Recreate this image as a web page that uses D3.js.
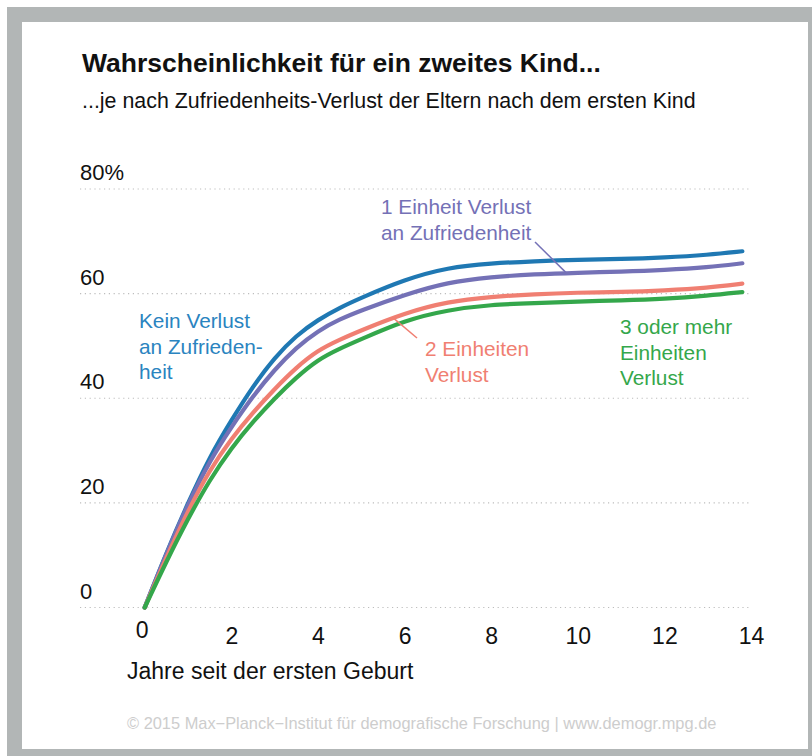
<!DOCTYPE html>
<html lang="de">
<head>
<meta charset="utf-8">
<script src="https://cdn.jsdelivr.net/npm/d3@7"></script>
<style>
  html, body { margin: 0; padding: 0; background: #fff; }
  svg { display: block; font-family: "Liberation Sans", Arial, Helvetica, sans-serif; }
</style>
</head>
<body>
<svg id="chart" width="812" height="756"></svg>
<script>
/* ──────────────────────────────────────────────────────────────
   Wahrscheinlichkeit für ein zweites Kind — line chart (D3 v7)
   ────────────────────────────────────────────────────────────── */

// years since first birth
const years = [0, 0.5, 1, 1.5, 2, 2.5, 3, 3.5, 4, 4.5, 5, 6, 7, 8, 9, 10, 11, 12, 13, 13.8];

// probability (%) per group
const keinVerlust   = [0, 10.5, 20, 28.8, 35.8, 42.3, 47.8, 52, 55, 57.3, 59.2, 62.7, 65, 65.8, 66.2, 66.5, 66.6, 66.9, 67.4, 68.1];
const einEinheit    = [0, 10.3, 19.8, 28, 34.5, 40.4, 45.5, 49.7, 52.9, 55.1, 56.8, 59.8, 62.2, 63.2, 63.7, 64.0, 64.2, 64.5, 65.0, 65.8];
const zweiEinheiten = [0, 9.6, 18.5, 26.3, 32.3, 37.3, 41.8, 45.9, 49.2, 51.2, 53, 56.3, 58.5, 59.4, 59.9, 60.2, 60.3, 60.6, 61.1, 61.9];
const dreiEinheiten = [0, 8.8, 17, 24.4, 30.5, 35.5, 40, 44, 47.4, 49.5, 51.3, 54.9, 56.9, 57.9, 58.2, 58.5, 58.7, 59.0, 59.6, 60.3];

const yTicks = [0, 20, 40, 60, 80];
const xTicks = [0, 2, 4, 6, 8, 10, 12, 14];

const title = "Wahrscheinlichkeit für ein zweites Kind...";
const subtitle = "...je nach Zufriedenheits-Verlust der Eltern nach dem ersten Kind";
const xTitle = "Jahre seit der ersten Geburt";
const footer = "© 2015 Max\u2212Planck\u2212Institut für demografische Forschung | www.demogr.mpg.de";

(function () {
  const W = 812, H = 756;
  const svg = d3.select("#chart");

  // frame
  svg.append("rect").attr("x", 7).attr("y", 7).attr("width", W).attr("height", H).attr("fill", "#b2b6b6");
  svg.append("rect").attr("x", 22).attr("y", 22).attr("width", 786).attr("height", 727).attr("fill", "#fff");

  // headings
  svg.append("text").attr("x", 82).attr("y", 72)
    .style("font-size", "26.5px").style("font-weight", "bold").attr("fill", "#111")
    .text(title);
  svg.append("text").attr("x", 82).attr("y", 108)
    .style("font-size", "21.4px").attr("fill", "#111")
    .text(subtitle);

  const x = d3.scaleLinear().domain([0, 14]).range([144.7, 751]);
  const y = d3.scaleLinear().domain([0, 80]).range([607.5, 189]);

  /* ── grid + y labels ───────────────────────────────────────── */
  const gGrid = svg.append("g");
  gGrid.selectAll("line").data(yTicks).join("line")
    .attr("x1", 80).attr("x2", 752)
    .attr("y1", d => y(d)).attr("y2", d => y(d))
    .attr("stroke", "#bdbdbd").attr("stroke-width", 1.2)
    .attr("stroke-dasharray", "1.2,3.6");
  gGrid.selectAll("text").data(yTicks).join("text")
    .attr("x", 80).attr("y", d => y(d) - 9)
    .style("font-size", "22px").attr("fill", "#111")
    .text(d => d === 80 ? "80%" : d);

  /* ── x axis labels ─────────────────────────────────────────── */
  const xAxis = d3.axisBottom(x).tickValues(xTicks).tickSize(0).tickPadding(0);
  const gx = svg.append("g").attr("transform", "translate(0,644)").call(xAxis);
  gx.select(".domain").remove();
  gx.selectAll("text")
    .attr("y", 0).attr("dy", 0)
    .attr("fill", "#111")
    .style("font-size", "23px")
    .style("font-family", "inherit");
  // the "0" sits a little higher and left in the original
  gx.selectAll(".tick").filter(d => d === 0).select("text").attr("dy", -6).attr("dx", -3);

  svg.append("text").attr("x", 127).attr("y", 679)
    .style("font-size", "23px").attr("fill", "#111")
    .text(xTitle);

  /* ── lines ─────────────────────────────────────────────────── */
  const series = [
    { key: "kein", values: keinVerlust,   color: "#1f78b3" },
    { key: "ein",  values: einEinheit,    color: "#7471b6" },
    { key: "zwei", values: zweiEinheiten, color: "#f07f72" },
    { key: "drei", values: dreiEinheiten, color: "#34a74b" }
  ];

  const line = d3.line()
    .x((d, i) => x(years[i]))
    .y(d => y(d))
    .curve(d3.curveBasis);

  svg.append("g").selectAll("path").data(series).join("path")
    .attr("d", d => line(d.values))
    .attr("fill", "none")
    .attr("stroke", d => d.color)
    .attr("stroke-width", 4.2)
    .attr("stroke-linecap", "round")
    .attr("stroke-linejoin", "round");

  /* ── direct labels ─────────────────────────────────────────── */
  function valueAt(values, t) {
    return d3.scaleLinear().domain(years).range(values)(t);
  }

  const labels = [
    { lines: ["Kein Verlust", "an Zufrieden-", "heit"], color: "#2a84c0", x: 139, y: 328 },
    { lines: ["1 Einheit Verlust", "an Zufriedenheit"], color: "#7471b6", x: 381, y: 214,
      leader: { from: [535, 242], t: 9.74, values: einEinheit } },
    { lines: ["2 Einheiten", "Verlust"], color: "#f07f72", x: 425, y: 356,
      leader: { from: [417, 338], t: 5.73, values: zweiEinheiten } },
    { lines: ["3 oder mehr", "Einheiten", "Verlust"], color: "#34a74b", x: 620, y: 334 }
  ];

  const gLab = svg.append("g");
  labels.forEach(l => {
    const t = gLab.append("text").attr("x", l.x).attr("y", l.y)
      .attr("fill", l.color).style("font-size", "20.8px");
    l.lines.forEach((s, i) => {
      t.append("tspan").attr("x", l.x).attr("dy", i === 0 ? 0 : 25.5).text(s);
    });
    if (l.leader) {
      gLab.append("line")
        .attr("x1", l.leader.from[0]).attr("y1", l.leader.from[1])
        .attr("x2", x(l.leader.t)).attr("y2", y(valueAt(l.leader.values, l.leader.t)))
        .attr("stroke", l.color).attr("stroke-width", 1.5);
    }
  });

  /* ── footer ────────────────────────────────────────────────── */
  svg.append("text").attr("x", 127).attr("y", 729)
    .style("font-size", "16.4px").attr("fill", "#cdcdcd")
    .text(footer);
})();
</script>
</body>
</html>
